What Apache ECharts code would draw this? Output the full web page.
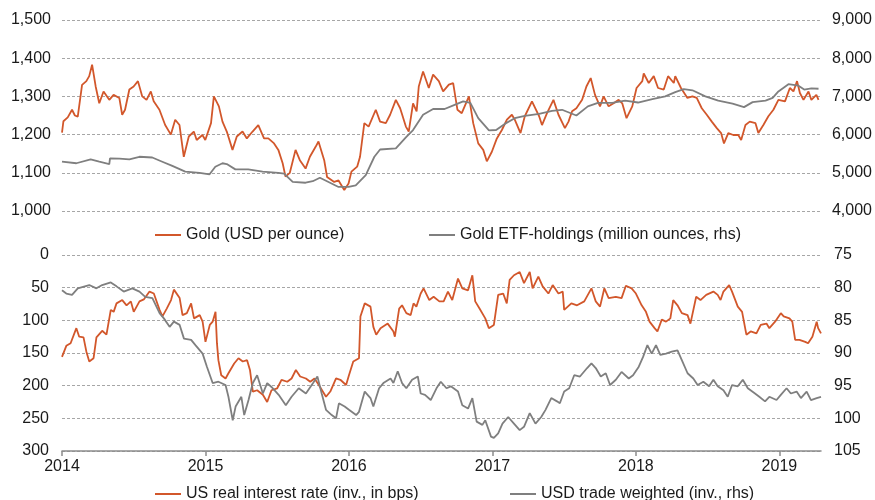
<!DOCTYPE html>
<html>
<head>
<meta charset="utf-8">
<script src="https://cdn.jsdelivr.net/npm/echarts@6/dist/echarts.min.js"></script>
<style>
    html, body { margin: 0; padding: 0; background: #fff; }
    #Root { width: 875px; height: 500px; }
</style>
</head>
<body>
<div id="Root"></div>
<script>
//#region data (x = year fraction)
let yearTicks = [2014, 2015, 2016, 2017, 2018, 2019]

let goldPrice = [
    [2014.00,1205],[2014.01,1235],[2014.04,1245],[2014.07,1265],[2014.09,1250],[2014.11,1247],[2014.14,1330],[2014.17,1340],
    [2014.19,1353],[2014.21,1383],[2014.235,1326],[2014.26,1282],[2014.29,1313],[2014.33,1291],[2014.36,1304],[2014.40,1296],
    [2014.42,1252],[2014.44,1265],[2014.47,1318],[2014.50,1326],[2014.53,1340],[2014.56,1300],[2014.59,1291],[2014.62,1313],
    [2014.64,1287],[2014.68,1265],[2014.72,1225],[2014.76,1200],[2014.79,1239],[2014.82,1225],[2014.85,1142],[2014.885,1195],
    [2014.92,1208],[2014.94,1186],[2014.98,1199],[2015.00,1186],[2015.04,1230],[2015.06,1300],[2015.095,1274],[2015.12,1234],
    [2015.15,1208],[2015.19,1160],[2015.22,1195],[2015.26,1208],[2015.29,1190],[2015.33,1208],[2015.37,1225],[2015.41,1190],
    [2015.44,1190],[2015.48,1177],[2015.51,1160],[2015.54,1125],[2015.56,1090],[2015.59,1100],[2015.63,1160],[2015.66,1133],
    [2015.70,1111],[2015.73,1142],[2015.77,1168],[2015.79,1182],[2015.83,1133],[2015.85,1089],[2015.90,1076],[2015.93,1080],
    [2015.97,1055],[2016.00,1072],[2016.02,1103],[2016.06,1116],[2016.08,1142],[2016.11,1230],[2016.14,1221],[2016.19,1265],
    [2016.22,1234],[2016.26,1230],[2016.29,1252],[2016.33,1291],[2016.36,1269],[2016.40,1221],[2016.42,1208],[2016.45,1282],
    [2016.475,1261],[2016.49,1326],[2016.52,1365],[2016.56,1322],[2016.59,1357],[2016.63,1340],[2016.66,1313],[2016.70,1331],
    [2016.73,1335],[2016.76,1265],[2016.79,1256],[2016.84,1300],[2016.87,1230],[2016.905,1177],[2016.94,1160],[2016.965,1130],
    [2017.00,1155],[2017.035,1190],[2017.07,1212],[2017.105,1239],[2017.14,1252],[2017.16,1239],[2017.20,1204],[2017.23,1248],
    [2017.28,1287],[2017.33,1248],[2017.35,1225],[2017.385,1256],[2017.43,1291],[2017.465,1252],[2017.51,1217],[2017.535,1234],
    [2017.56,1261],[2017.59,1269],[2017.63,1291],[2017.66,1326],[2017.69,1348],[2017.72,1304],[2017.755,1274],[2017.78,1300],
    [2017.815,1274],[2017.85,1282],[2017.885,1291],[2017.91,1282],[2017.94,1243],[2017.98,1274],[2018.01,1322],[2018.05,1340],
    [2018.06,1360],[2018.095,1335],[2018.13,1353],[2018.16,1322],[2018.20,1318],[2018.23,1353],[2018.27,1335],[2018.28,1353],
    [2018.32,1322],[2018.365,1296],[2018.40,1300],[2018.43,1296],[2018.465,1269],[2018.50,1252],[2018.535,1234],[2018.57,1217],
    [2018.60,1204],[2018.62,1177],[2018.65,1204],[2018.685,1199],[2018.72,1199],[2018.74,1186],[2018.77,1225],[2018.80,1234],
    [2018.84,1230],[2018.86,1204],[2018.895,1225],[2018.93,1248],[2018.965,1265],[2019.00,1291],[2019.046,1287],[2019.08,1322],
    [2019.105,1313],[2019.13,1340],[2019.15,1309],[2019.175,1291],[2019.21,1313],[2019.23,1291],[2019.265,1304],[2019.28,1291]
]

let etfHoldings = [
    [2014.00,5290],[2014.10,5250],[2014.20,5350],[2014.26,5290],[2014.33,5230],[2014.335,5380],[2014.40,5370],[2014.47,5350],
    [2014.54,5420],[2014.63,5400],[2014.70,5290],[2014.77,5180],[2014.86,5030],[2014.96,5000],[2015.03,4960],[2015.07,5160],
    [2015.12,5250],[2015.15,5230],[2015.21,5090],[2015.30,5090],[2015.40,5030],[2015.51,5000],[2015.55,4980],[2015.61,4760],
    [2015.70,4740],[2015.75,4780],[2015.80,4870],[2015.86,4760],[2015.93,4630],[2016.00,4630],[2016.05,4670],[2016.12,4940],
    [2016.18,5420],[2016.22,5610],[2016.33,5640],[2016.40,5930],[2016.45,6120],[2016.52,6520],[2016.59,6670],[2016.67,6670],
    [2016.74,6780],[2016.80,6870],[2016.85,6830],[2016.905,6430],[2016.98,6110],[2017.03,6120],[2017.09,6280],[2017.16,6430],
    [2017.23,6490],[2017.33,6540],[2017.42,6620],[2017.49,6650],[2017.50,6630],[2017.59,6500],[2017.67,6740],[2017.74,6830],
    [2017.84,6830],[2017.93,6890],[2018.02,6840],[2018.12,6930],[2018.21,7000],[2018.28,7110],[2018.34,7190],[2018.40,7160],
    [2018.49,7000],[2018.58,6890],[2018.68,6810],[2018.76,6720],[2018.82,6850],[2018.91,6890],[2018.96,6960],[2019.00,7130],
    [2019.07,7320],[2019.14,7280],[2019.18,7180],[2019.23,7210],[2019.28,7200]
]

let realRate = [
    [2014.00,156],[2014.03,139],[2014.06,135],[2014.10,112],[2014.12,125],[2014.15,126],[2014.17,148],[2014.19,163],
    [2014.22,158],[2014.24,126],[2014.28,116],[2014.31,122],[2014.34,84],[2014.36,87],[2014.38,74],[2014.42,69],
    [2014.45,77],[2014.48,71],[2014.50,87],[2014.54,71],[2014.57,68],[2014.61,56],[2014.64,59],[2014.65,56],
    [2014.68,84],[2014.70,94],[2014.73,82],[2014.76,69],[2014.78,53],[2014.82,66],[2014.84,92],[2014.87,89],
    [2014.90,74],[2014.92,97],[2014.96,92],[2014.98,102],[2015.00,133],[2015.03,107],[2015.05,102],[2015.07,87],
    [2015.08,135],[2015.09,161],[2015.11,184],[2015.14,189],[2015.16,181],[2015.20,166],[2015.23,158],[2015.26,163],
    [2015.29,161],[2015.31,176],[2015.33,209],[2015.36,207],[2015.40,214],[2015.43,225],[2015.46,207],[2015.50,204],
    [2015.53,191],[2015.57,194],[2015.60,189],[2015.63,176],[2015.66,186],[2015.70,189],[2015.73,194],[2015.76,189],
    [2015.79,199],[2015.84,217],[2015.87,209],[2015.91,189],[2015.94,191],[2015.98,199],[2016.00,184],[2016.03,163],
    [2016.07,158],[2016.08,94],[2016.11,74],[2016.15,79],[2016.17,110],[2016.19,122],[2016.22,112],[2016.27,105],
    [2016.31,117],[2016.32,125],[2016.35,82],[2016.37,77],[2016.40,89],[2016.43,92],[2016.45,74],[2016.47,79],
    [2016.50,59],[2016.52,51],[2016.56,69],[2016.59,64],[2016.63,71],[2016.66,71],[2016.69,56],[2016.72,69],
    [2016.76,36],[2016.79,51],[2016.83,54],[2016.86,31],[2016.88,71],[2016.91,82],[2016.95,97],[2016.975,112],
    [2017.01,107],[2017.04,61],[2017.075,59],[2017.10,74],[2017.12,38],[2017.15,31],[2017.19,26],[2017.22,43],
    [2017.26,26],[2017.28,51],[2017.32,33],[2017.35,48],[2017.39,59],[2017.42,46],[2017.46,59],[2017.49,56],
    [2017.50,84],[2017.55,74],[2017.59,77],[2017.64,71],[2017.69,51],[2017.72,71],[2017.75,79],[2017.78,51],
    [2017.81,66],[2017.86,64],[2017.90,66],[2017.93,47],[2017.97,51],[2018.00,59],[2018.04,77],[2018.07,87],
    [2018.095,102],[2018.13,112],[2018.15,117],[2018.18,99],[2018.21,102],[2018.24,97],[2018.26,69],[2018.29,77],
    [2018.32,89],[2018.36,92],[2018.38,105],[2018.42,64],[2018.45,69],[2018.49,61],[2018.54,56],[2018.57,61],
    [2018.59,69],[2018.61,56],[2018.65,46],[2018.67,56],[2018.71,79],[2018.74,87],[2018.77,122],[2018.80,117],
    [2018.84,120],[2018.87,107],[2018.91,105],[2018.93,112],[2018.97,102],[2019.01,89],[2019.03,94],[2019.07,97],
    [2019.09,102],[2019.11,130],[2019.14,130],[2019.18,133],[2019.20,135],[2019.23,125],[2019.26,102],[2019.27,112],
    [2019.29,120]
]

let usdTradeWeighted = [
    [2014.00,80.4],[2014.03,80.9],[2014.07,81.1],[2014.11,80.1],[2014.19,79.6],[2014.24,80.1],[2014.28,79.6],[2014.34,79.2],
    [2014.38,79.8],[2014.43,80.6],[2014.49,80.1],[2014.54,80.6],[2014.58,81.4],[2014.63,81.6],[2014.68,83.9],[2014.71,84.7],
    [2014.75,86.0],[2014.78,85.2],[2014.82,85.7],[2014.85,87.8],[2014.90,88.0],[2014.93,88.8],[2014.98,90.1],[2015.01,92.1],
    [2015.05,94.6],[2015.09,94.4],[2015.14,94.9],[2015.16,96.7],[2015.19,100.3],[2015.21,98.2],[2015.25,96.7],[2015.27,99.5],
    [2015.30,97.2],[2015.33,94.6],[2015.36,93.4],[2015.40,96.2],[2015.43,94.6],[2015.46,95.2],[2015.51,96.4],[2015.56,98.0],
    [2015.60,96.7],[2015.65,95.4],[2015.70,96.2],[2015.75,94.6],[2015.78,93.6],[2015.81,96.2],[2015.84,98.7],[2015.88,99.5],
    [2015.91,100.0],[2015.93,97.7],[2015.97,98.2],[2016.00,98.7],[2016.05,99.5],[2016.07,99.0],[2016.11,95.9],[2016.15,96.9],
    [2016.17,98.2],[2016.21,95.4],[2016.24,94.6],[2016.29,93.9],[2016.31,94.6],[2016.34,92.8],[2016.37,94.6],[2016.40,95.4],
    [2016.44,94.1],[2016.48,93.6],[2016.50,96.2],[2016.53,96.4],[2016.57,97.2],[2016.61,95.4],[2016.64,94.4],[2016.68,95.4],
    [2016.71,95.1],[2016.76,95.9],[2016.79,98.0],[2016.83,98.5],[2016.86,96.9],[2016.89,100.5],[2016.93,101.0],[2016.95,100.3],
    [2016.99,102.8],[2017.01,103.0],[2017.04,102.3],[2017.07,100.8],[2017.11,99.8],[2017.15,100.8],[2017.19,101.8],[2017.22,101.3],
    [2017.26,99.2],[2017.30,100.8],[2017.34,99.8],[2017.37,98.7],[2017.41,96.9],[2017.45,97.4],[2017.47,97.7],[2017.50,95.9],
    [2017.535,95.4],[2017.57,93.4],[2017.61,93.6],[2017.66,92.3],[2017.69,91.6],[2017.72,92.3],[2017.755,93.6],[2017.79,93.1],
    [2017.82,94.9],[2017.86,94.1],[2017.90,92.9],[2017.95,93.9],[2017.98,93.4],[2018.02,92.1],[2018.05,90.6],[2018.08,88.8],
    [2018.11,90.1],[2018.14,88.8],[2018.17,90.3],[2018.21,90.1],[2018.25,89.8],[2018.29,89.6],[2018.32,91.1],[2018.36,93.1],
    [2018.40,93.9],[2018.43,94.9],[2018.47,94.4],[2018.51,95.1],[2018.54,94.1],[2018.57,95.1],[2018.61,95.7],[2018.64,96.7],
    [2018.67,94.9],[2018.71,95.1],[2018.745,94.1],[2018.78,95.4],[2018.83,96.2],[2018.86,96.7],[2018.90,97.4],[2018.93,96.7],
    [2018.98,97.2],[2019.01,96.4],[2019.05,95.4],[2019.08,96.2],[2019.12,95.9],[2019.15,96.9],[2019.19,95.9],[2019.22,97.2],
    [2019.26,96.9],[2019.29,96.7]
]
//#endregion

let orange = "#d2572b"
let grey = "#7f7f7f"
let textColor = "#1a1a1a"
let fontFamily = "Liberation Sans, Arial, sans-serif"

function withComma(v) {
    return String(v).replace(/\B(?=(\d{3})+(?!\d))/g, ",")
}

let gridLine = { show: true, lineStyle: { color: "#a6a6a6", type: [3, 2], width: 1 } }
let axisText = { color: textColor, fontSize: 16, fontFamily: fontFamily }

function legendAt(name, left, top, color) {
    return {
        data: [name], left: left, top: top, padding: 0,
        icon: "rect", itemWidth: 26, itemHeight: 2, itemGap: 0,
        selectedMode: false,
        itemStyle: { color: color },
        textStyle: { color: textColor, fontSize: 16, fontFamily: fontFamily }
    }
}

let chart = echarts.init(document.getElementById("Root"), null, { renderer: "canvas" })

let options = {
    animation: false,
    backgroundColor: "#fff",
    textStyle: { fontFamily: fontFamily },
    grid: [
        { left: 62, right: 54, top: 20, height: 191 },
        { left: 62, right: 54, top: 255, height: 196 }
    ],
    legend: [
        legendAt("Gold (USD per ounce)", 155, 227, orange),
        legendAt("Gold ETF-holdings (million ounces, rhs)", 429, 227, grey),
        legendAt("US real interest rate (inv., in bps)", 155, 486, orange),
        legendAt("USD trade weighted (inv., rhs)", 510, 486, grey)
    ],
    xAxis: [
        {
            type: "value", gridIndex: 0, min: 2014, max: 2019.29,
            axisLine: { show: false }, axisTick: { show: false },
            axisLabel: { show: false }, splitLine: { show: false }
        },
        {
            type: "value", gridIndex: 1, min: 2014, max: 2019.29,
            axisLine: { show: true, onZero: false, lineStyle: { color: "#8c8c8c", width: 1.5 } },
            axisTick: { show: true, customValues: yearTicks, length: 5, lineStyle: { color: "#8c8c8c", width: 1.5 } },
            axisLabel: Object.assign({ customValues: yearTicks, margin: 8, formatter: v => String(v) }, axisText),
            splitLine: { show: false }
        }
    ],
    yAxis: [
        {
            type: "value", gridIndex: 0, position: "left", min: 1000, max: 1500, interval: 100,
            axisLine: { show: false }, axisTick: { show: false },
            axisLabel: Object.assign({ margin: 11, formatter: withComma }, axisText),
            splitLine: gridLine
        },
        {
            type: "value", gridIndex: 0, position: "right", min: 4000, max: 9000, interval: 1000,
            axisLine: { show: false }, axisTick: { show: false },
            axisLabel: Object.assign({ margin: 12, formatter: withComma }, axisText),
            splitLine: { show: false }
        },
        {
            type: "value", gridIndex: 1, position: "left", inverse: true, min: 0, max: 300, interval: 50,
            axisLine: { show: false }, axisTick: { show: false },
            axisLabel: Object.assign({ margin: 13 }, axisText),
            splitLine: gridLine
        },
        {
            type: "value", gridIndex: 1, position: "right", inverse: true, min: 75, max: 105, interval: 5,
            axisLine: { show: false }, axisTick: { show: false },
            axisLabel: Object.assign({ margin: 13 }, axisText),
            splitLine: { show: false }
        }
    ],
    series: [
        {
            name: "Gold (USD per ounce)", type: "line", xAxisIndex: 0, yAxisIndex: 0,
            data: goldPrice, symbol: "none", lineStyle: { color: orange, width: 1.8 }, itemStyle: { color: orange }
        },
        {
            name: "Gold ETF-holdings (million ounces, rhs)", type: "line", xAxisIndex: 0, yAxisIndex: 1,
            data: etfHoldings, symbol: "none", lineStyle: { color: grey, width: 1.8 }, itemStyle: { color: grey }
        },
        {
            name: "US real interest rate (inv., in bps)", type: "line", xAxisIndex: 1, yAxisIndex: 2,
            data: realRate, symbol: "none", lineStyle: { color: orange, width: 1.8 }, itemStyle: { color: orange }
        },
        {
            name: "USD trade weighted (inv., rhs)", type: "line", xAxisIndex: 1, yAxisIndex: 3,
            data: usdTradeWeighted, symbol: "none", lineStyle: { color: grey, width: 1.8 }, itemStyle: { color: grey }
        }
    ]
}

chart.setOption(options)
</script>
</body>
</html>
